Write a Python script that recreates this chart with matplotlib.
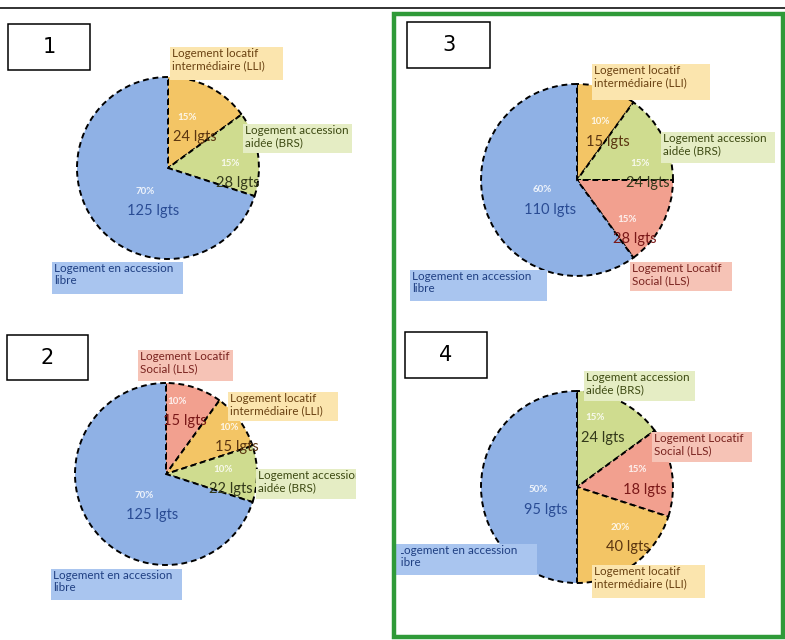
import matplotlib.pyplot as plt
from matplotlib.patches import Rectangle
from matplotlib.transforms import Bbox, TransformedBbox

H = 640  # figure height in px, y is flipped so we can read pixel rows off the scan

# slice colours, label background colours, text colours
SLICE = {'LLI': '#f3c565', 'BRS': '#cfdc8f', 'LLS': '#f2a08f', 'LIB': '#8fb1e5'}
LABEL_BG = {'LLI': '#fbe5ae', 'BRS': '#e5edc4', 'LLS': '#f6c3b6', 'LIB': '#a9c5ef'}
LABEL_FG = {'LLI': '#6a4212', 'BRS': '#3d4a12', 'LLS': '#7a2420', 'LIB': '#1f3f82'}
COUNT_FG = {'LLI': '#5a3510', 'BRS': '#33391a', 'LLS': '#7a1818', 'LIB': '#2a4c94'}

NAMES = {
    'LLI': 'Logement locatif\nintermédiaire (LLI)',
    'BRS': 'Logement accession\naidée (BRS)',
    'LLS': 'Logement Locatif\nSocial (LLS)',
    'LIB': 'Logement en accession\nlibre',
}

# scenario 1
cats_1 = ['LLI', 'BRS', 'LIB']
pct_1 = [15, 15, 70]
lgts_1 = [24, 28, 125]
# scenario 2
cats_2 = ['LLS', 'LLI', 'BRS', 'LIB']
pct_2 = [10, 10, 10, 70]
lgts_2 = [15, 15, 22, 125]
# scenario 3
cats_3 = ['LLI', 'BRS', 'LLS', 'LIB']
pct_3 = [10, 15, 15, 60]
lgts_3 = [15, 24, 28, 110]
# scenario 4
cats_4 = ['BRS', 'LLS', 'LLI', 'LIB']
pct_4 = [15, 15, 20, 50]
lgts_4 = [24, 18, 40, 95]

plt.rcParams['font.family'] = ['Lato', 'DejaVu Sans']

fig = plt.figure(figsize=(7.85, 6.4), dpi=100)
ax = fig.add_axes([0, 0, 1, 1])


def num_box(x0, y0, x1, y1, txt):
    ax.add_patch(Rectangle((x0, H - y1), x1 - x0, y1 - y0, facecolor='white',
                           edgecolor='black', lw=1.1, zorder=5))
    ax.text((x0 + x1) / 2, H - (y0 + y1) / 2, txt, ha='center', va='center',
            fontsize=15, family='DejaVu Sans', zorder=6)


def label(cat, x0, y0, x1, y1, clip=None):
    ax.add_patch(Rectangle((x0, H - y1), x1 - x0, y1 - y0, facecolor=LABEL_BG[cat],
                           edgecolor='none', zorder=2))
    t = ax.text(x0 + 2, H - y0 - 1, NAMES[cat], ha='left', va='top', fontsize=8.4,
                color=LABEL_FG[cat], linespacing=1.1, zorder=3)
    if clip is not None:
        t.set_clip_box(TransformedBbox(Bbox([[clip[0], 0], [clip[1], H]]), ax.transData))
        t.set_clip_on(True)


def pie(cx, cy, r, cats, pct, lgts, spots):
    ax.pie(pct, colors=[SLICE[c] for c in cats], startangle=90, counterclock=False,
           center=(cx, H - cy), radius=r,
           wedgeprops=dict(edgecolor='black', linestyle=(0, (3, 2)), linewidth=1.4))
    for c, p, n, (tx, ty) in zip(cats, pct, lgts, spots):
        ax.text(tx - 8, H - ty + 20, f'{p}%', ha='center', va='center', fontsize=7,
                fontweight='bold', color='white', alpha=0.85, zorder=4)
        ax.text(tx, H - ty, f'{n} lgts', ha='center', va='center', fontsize=10.5,
                color=COUNT_FG[c], zorder=4)


# chart 1
pie(168, 168, 91, cats_1, pct_1, lgts_1, [(195, 137), (238, 183), (153, 211)])
label('LLI', 170, 47, 283, 80)
label('BRS', 243, 124, 352, 153)
label('LIB', 52, 262, 183, 294)
num_box(8, 24, 90, 70, '1')

# chart 2
pie(166, 474, 91, cats_2, pct_2, lgts_2, [(185, 421), (237, 447), (231, 489), (152, 515)])
label('LLS', 138, 350, 233, 381)
label('LLI', 228, 392, 338, 421)
label('BRS', 256, 469, 356, 499, clip=(0, 356))
label('LIB', 51, 569, 182, 600)
num_box(7, 335, 88, 380, '2')

# chart 3
pie(577, 180, 96, cats_3, pct_3, lgts_3, [(608, 142), (648, 183), (635, 239), (550, 210)])
label('LLI', 592, 64, 710, 100)
label('BRS', 661, 132, 775, 163)
label('LLS', 630, 262, 732, 291)
label('LIB', 410, 270, 547, 301)
num_box(407, 22, 490, 68, '3')

# chart 4
pie(577, 487, 96, cats_4, pct_4, lgts_4, [(603, 438), (645, 490), (628, 547), (546, 510)])
label('BRS', 584, 371, 695, 401)
label('LLS', 652, 432, 752, 462)
label('LLI', 592, 565, 705, 598)
label('LIB', 396, 544, 537, 575, clip=(401, 785))
num_box(405, 332, 487, 378, '4')

# page furniture: top rule and green frame around the retained options
ax.plot([0, 785], [H - 8, H - 8], color='#222222', lw=1.3, zorder=7)
ax.add_patch(Rectangle((394, H - 637), 389, 623, facecolor='none',
                       edgecolor='#2f9a38', lw=3.2, zorder=8))

ax.set_xlim(0, 785)
ax.set_ylim(0, H)
ax.set_aspect('auto')
ax.axis('off')

fig.savefig('out.png', dpi=100)
